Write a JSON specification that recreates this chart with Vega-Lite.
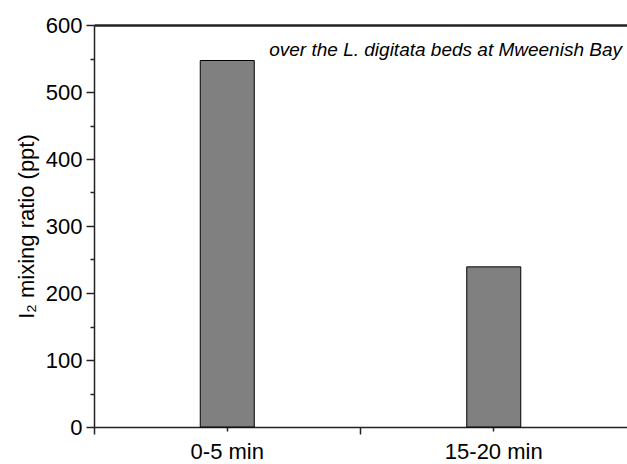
{
  "$schema": "https://vega.github.io/schema/vega-lite/v6.json",
  "width": 533,
  "height": 402,
  "autosize": {"type": "none"},
  "padding": {"left": 94, "top": 25, "right": 0, "bottom": 37},
  "background": "white",
  "config": {
    "view": {"stroke": null},
    "axis": {
      "grid": false,
      "labelFont": "Liberation Sans",
      "titleFont": "Liberation Sans",
      "labelColor": "black",
      "titleColor": "black",
      "labelFontSize": 22,
      "titleFontSize": 22,
      "titleFontWeight": "normal",
      "domainColor": "#222222",
      "tickColor": "#222222",
      "domainWidth": 1.5,
      "tickWidth": 1.5,
      "zindex": 1
    }
  },
  "title": {
    "text": "over the L. digitata beds at Mweenish Bay",
    "anchor": "end",
    "frame": "group",
    "offset": -46,
    "dx": -5,
    "font": "Liberation Sans",
    "fontSize": 19,
    "fontStyle": "italic",
    "fontWeight": "normal",
    "color": "black"
  },
  "data": {
    "values": [
      {"period": "0-5 min", "I2": 547},
      {"period": "15-20 min", "I2": 239}
    ]
  },
  "resolve": {"axis": {"x": "independent", "y": "independent"}},
  "layer": [
    {
      "mark": {"type": "bar", "fill": "#808080", "stroke": "black", "strokeWidth": 1, "width": 54},
      "encoding": {
        "x": {
          "field": "period",
          "type": "nominal",
          "sort": null,
          "scale": {"paddingInner": 0, "paddingOuter": 0},
          "axis": {
            "orient": "bottom",
            "title": null,
            "labelAngle": 0,
            "tickSize": 4,
            "labelPadding": 10,
            "domain": true
          }
        },
        "y": {
          "field": "I2",
          "type": "quantitative",
          "scale": {"domain": [0, 600], "nice": false, "zero": true},
          "axis": {
            "orient": "left",
            "title": "I₂ mixing ratio (ppt)",
            "values": [0, 100, 200, 300, 400, 500, 600],
            "tickSize": 8,
            "labelPadding": 4,
            "titlePadding": 7
          }
        }
      }
    },
    {
      "mark": {"type": "bar", "opacity": 0, "width": 54},
      "encoding": {
        "x": {
          "field": "period",
          "type": "nominal",
          "sort": null,
          "axis": {
            "orient": "bottom",
            "title": null,
            "labels": false,
            "domain": false,
            "bandPosition": 0,
            "tickSize": 7
          }
        },
        "y": {
          "field": "I2",
          "type": "quantitative",
          "axis": {
            "orient": "left",
            "title": null,
            "labels": false,
            "domain": false,
            "values": [50, 150, 250, 350, 450, 550],
            "tickSize": 4
          }
        }
      }
    },
    {
      "mark": {"type": "bar", "opacity": 0, "width": 54},
      "encoding": {
        "x": {
          "field": "period",
          "type": "nominal",
          "sort": null,
          "axis": {
            "orient": "top",
            "title": null,
            "labels": false,
            "ticks": false,
            "domain": true,
            "domainWidth": 2.5
          }
        },
        "y": {"field": "I2", "type": "quantitative", "axis": null}
      }
    }
  ]
}
